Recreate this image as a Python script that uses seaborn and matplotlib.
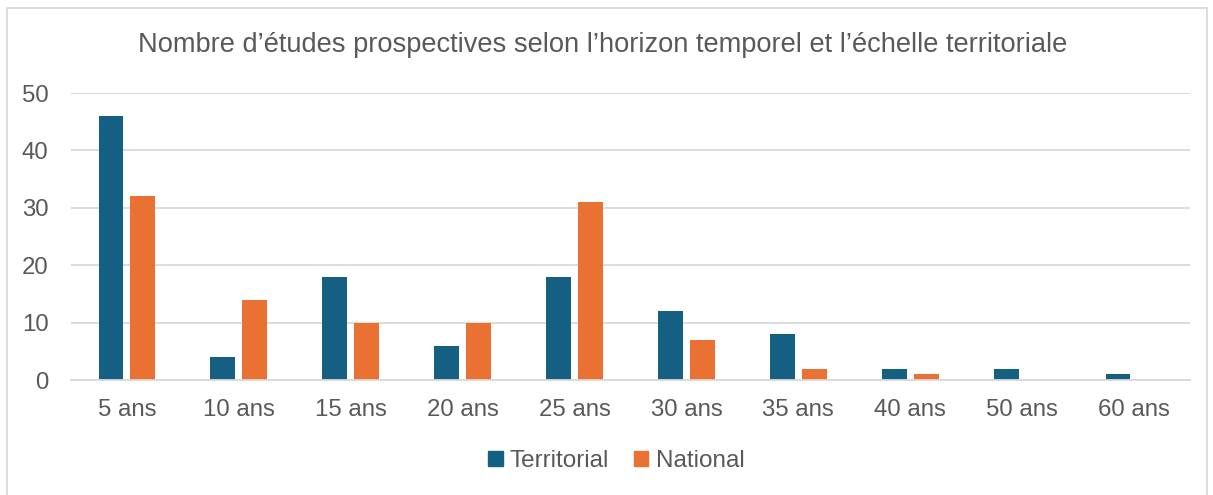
import numpy as np
import pandas as pd
import matplotlib
matplotlib.use("Agg")
import matplotlib.pyplot as plt
import seaborn as sns
from matplotlib.patches import Rectangle

horizons = ["5 ans", "10 ans", "15 ans", "20 ans", "25 ans",
            "30 ans", "35 ans", "40 ans", "50 ans", "60 ans"]
territorial = [46, 4, 18, 6, 18, 12, 8, 2, 2, 1]
national = [32, 14, 10, 10, 31, 7, 2, 1, 0, 0]

series = ["Territorial", "National"]
colors = ["#156082", "#E97132"]
text_color = "#595959"
grid_color = "#D9D9D9"

df = pd.DataFrame({
    "horizon": horizons * 2,
    "echelle": [series[0]] * len(horizons) + [series[1]] * len(horizons),
    "n": territorial + national,
})

sns.set_theme(style="white")
plt.rcParams["font.family"] = ["Liberation Sans", "DejaVu Sans"]

fig = plt.figure(figsize=(12.13, 4.95), dpi=100)
ax = fig.add_axes([0.0585, 0.2323, 0.9225, 0.5797])

sns.barplot(data=df, x="horizon", y="n", hue="echelle", order=horizons,
            hue_order=series, palette=colors, width=0.57, gap=0.22,
            saturation=1, linewidth=0, ax=ax, legend=True)

ax.set_ylim(0, 50)
ax.set_xlim(-0.5, len(horizons) - 0.5)
ax.set_yticks(range(0, 51, 10))
ax.yaxis.grid(True, color=grid_color, linewidth=1.3)
ax.set_axisbelow(True)
for side in ["top", "right", "left"]:
    ax.spines[side].set_visible(False)
ax.spines["bottom"].set_color(grid_color)
ax.spines["bottom"].set_linewidth(1.3)
ax.tick_params(axis="both", length=0, labelsize=17.3, labelcolor=text_color)
ax.tick_params(axis="x", pad=14)
ax.tick_params(axis="y", pad=16)
ax.set_xlabel("")
ax.set_ylabel("")

ax.legend_.remove()
handles = [Rectangle((0, 0), 1, 1, color=c) for c in colors]
fig.legend(handles, series, loc="center", bbox_to_anchor=(0.508, 0.069),
           ncol=2, frameon=False, fontsize=17.5, labelcolor=text_color,
           handlelength=0.6, handleheight=0.6, handletextpad=0.3,
           columnspacing=1.0)

fig.text(0.4965, 0.909, "Nombre d\u2019\u00e9tudes prospectives selon l\u2019horizon temporel et l\u2019\u00e9chelle territoriale",
         ha="center", va="center", fontsize=19.6, color=text_color)

border = Rectangle((7 / 1213, -0.05), 1200 / 1213, 1 - 8 / 495 + 0.05,
                   transform=fig.transFigure, fill=False,
                   edgecolor=grid_color, linewidth=1.3)
fig.patches.append(border)

fig.savefig("out.png", dpi=100)
